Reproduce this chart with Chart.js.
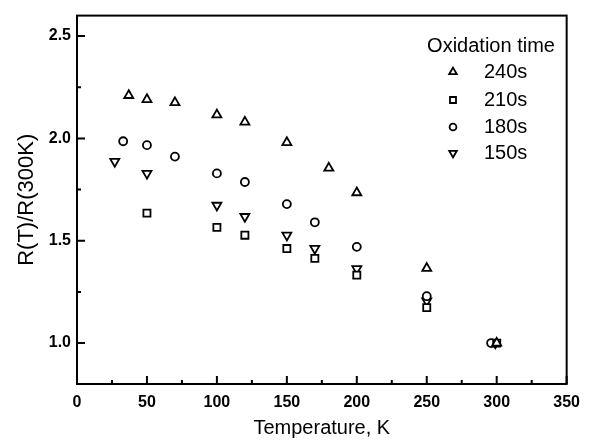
<!DOCTYPE html>
<html>
<head>
<meta charset="utf-8">
<script src="https://cdn.jsdelivr.net/npm/chart.js@4/dist/chart.umd.min.js"></script>
<style>
  html, body { margin: 0; padding: 0; background: #fff; }
  #wrap { width: 589px; height: 442px; }
</style>
</head>
<body>
<div id="wrap"><canvas id="myChart" width="589" height="442"></canvas></div>
<script>
// values
const temp240 = [37, 50, 70, 100, 120, 150, 180, 200, 250, 300];
const r240 = [2.21, 2.19, 2.175, 2.115, 2.08, 1.98, 1.855, 1.735, 1.365, 1.0];

const temp210 = [50, 100, 120, 150, 170, 200, 250, 300];
const r210 = [1.635, 1.565, 1.527, 1.462, 1.414, 1.332, 1.173, 1.0];

const temp180 = [33, 50, 70, 100, 120, 150, 170, 200, 250, 296];
const r180 = [1.986, 1.967, 1.911, 1.829, 1.787, 1.679, 1.59, 1.47, 1.229, 1.0];

const temp150 = [27, 50, 100, 120, 150, 170, 200, 250, 299];
const r150 = [1.887, 1.829, 1.673, 1.618, 1.527, 1.462, 1.363, 1.205, 1.0];

const xTicks = [0, 50, 100, 150, 200, 250, 300, 350];
const yTicks = [1.0, 1.5, 2.0, 2.5];
const xMinor = [25, 75, 125, 175, 225, 275, 325];
const yMinor = [1.25, 1.75, 2.25];

const legendTitle = 'Oxidation time';
const seriesNames = ['240s', '210s', '180s', '150s'];

function pts(xs, ys) {
  let out = [];
  for (let i = 0; i < xs.length; i++) {
    out.push({x: xs[i], y: ys[i]});
  }
  return out;
}

function makeSet(label, xs, ys, style, rot) {
  let r = 5.2;
  if (style == 'rect') r = 5;
  if (style == 'circle') r = 4;
  return {
    label: label,
    data: pts(xs, ys),
    pointStyle: style,
    rotation: rot,
    pointRadius: r,
    borderColor: '#000',
    backgroundColor: '#fff',
    borderWidth: 1.8,
    showLine: false
  };
}

const data = {
  datasets: [
    makeSet(seriesNames[0], temp240, r240, 'triangle', 0),
    makeSet(seriesNames[1], temp210, r210, 'rect', 0),
    makeSet(seriesNames[2], temp180, r180, 'circle', 0),
    makeSet(seriesNames[3], temp150, r150, 'triangle', 180)
  ]
};

// frame + inward ticks + legend
const framePlugin = {
  id: 'frame',
  afterDraw(chart) {
    const ctx = chart.ctx;
    const a = chart.chartArea;
    const xs = chart.scales.x;
    const ys = chart.scales.y;
    ctx.save();
    ctx.strokeStyle = '#000';
    ctx.lineWidth = 2;
    ctx.strokeRect(a.left, a.top, a.right - a.left, a.bottom - a.top);
    ctx.beginPath();
    xTicks.forEach(v => {
      let p = xs.getPixelForValue(v);
      ctx.moveTo(p, a.bottom); ctx.lineTo(p, a.bottom - 8);
    });
    xMinor.forEach(v => {
      let p = xs.getPixelForValue(v);
      ctx.moveTo(p, a.bottom); ctx.lineTo(p, a.bottom - 4);
    });
    yTicks.forEach(v => {
      let p = ys.getPixelForValue(v);
      ctx.moveTo(a.left, p); ctx.lineTo(a.left + 8, p);
    });
    yMinor.forEach(v => {
      let p = ys.getPixelForValue(v);
      ctx.moveTo(a.left, p); ctx.lineTo(a.left + 4, p);
    });
    ctx.stroke();

    ctx.fillStyle = '#000';
    ctx.font = '20px "Liberation Sans", Arial, sans-serif';
    ctx.textBaseline = 'middle';
    ctx.textAlign = 'center';
    ctx.fillText(legendTitle, 491, 46);
    ctx.textAlign = 'left';
    const rowY = [72, 100, 127, 153];
    chart.data.datasets.forEach((ds, i) => {
      ctx.lineWidth = ds.borderWidth;
      ctx.strokeStyle = ds.borderColor;
      ctx.fillStyle = ds.backgroundColor;
      Chart.helpers.drawPoint(ctx, {
        pointStyle: ds.pointStyle,
        rotation: ds.rotation,
        radius: ds.pointRadius * 0.85,
        borderWidth: ds.borderWidth
      }, 453, rowY[i]);
      ctx.fillStyle = '#000';
      ctx.fillText(ds.label, 484, rowY[i]);
    });
    ctx.restore();
  }
};

const tickFont = { family: '"Liberation Sans", Arial, sans-serif', size: 16, weight: 'bold' };

const config = {
  type: 'scatter',
  data: data,
  options: {
    responsive: false,
    animation: false,
    layout: { padding: { left: 0, right: 12, top: 7, bottom: 0 } },
    plugins: {
      legend: { display: false },
      tooltip: { enabled: false }
    },
    scales: {
      x: {
        type: 'linear',
        min: 0,
        max: 350,
        afterFit: s => { s.height = 58; },
        afterBuildTicks: s => { s.ticks = xTicks.map(v => ({value: v})); },
        grid: { display: false, drawTicks: false },
        border: { display: false },
        ticks: { color: '#000', padding: 9, maxRotation: 0, font: tickFont },
        title: {
          display: true,
          text: 'Temperature, K',
          color: '#000',
          padding: { top: 0, bottom: 2 },
          font: { family: '"Liberation Sans", Arial, sans-serif', size: 20 }
        }
      },
      y: {
        type: 'linear',
        min: 0.8,
        max: 2.6,
        afterFit: s => { s.width = 77; },
        afterBuildTicks: s => { s.ticks = yTicks.map(v => ({value: v})); },
        grid: { display: false, drawTicks: false },
        border: { display: false },
        ticks: {
          color: '#000',
          padding: 6,
          callback: v => v.toFixed(1),
          font: tickFont
        },
        title: {
          display: true,
          text: 'R(T)/R(300K)',
          color: '#000',
          padding: { top: 14, bottom: 0 },
          font: { family: '"Liberation Sans", Arial, sans-serif', size: 22 }
        }
      }
    }
  },
  plugins: [framePlugin]
};

const myChart = new Chart(document.getElementById('myChart'), config);
</script>
</body>
</html>
